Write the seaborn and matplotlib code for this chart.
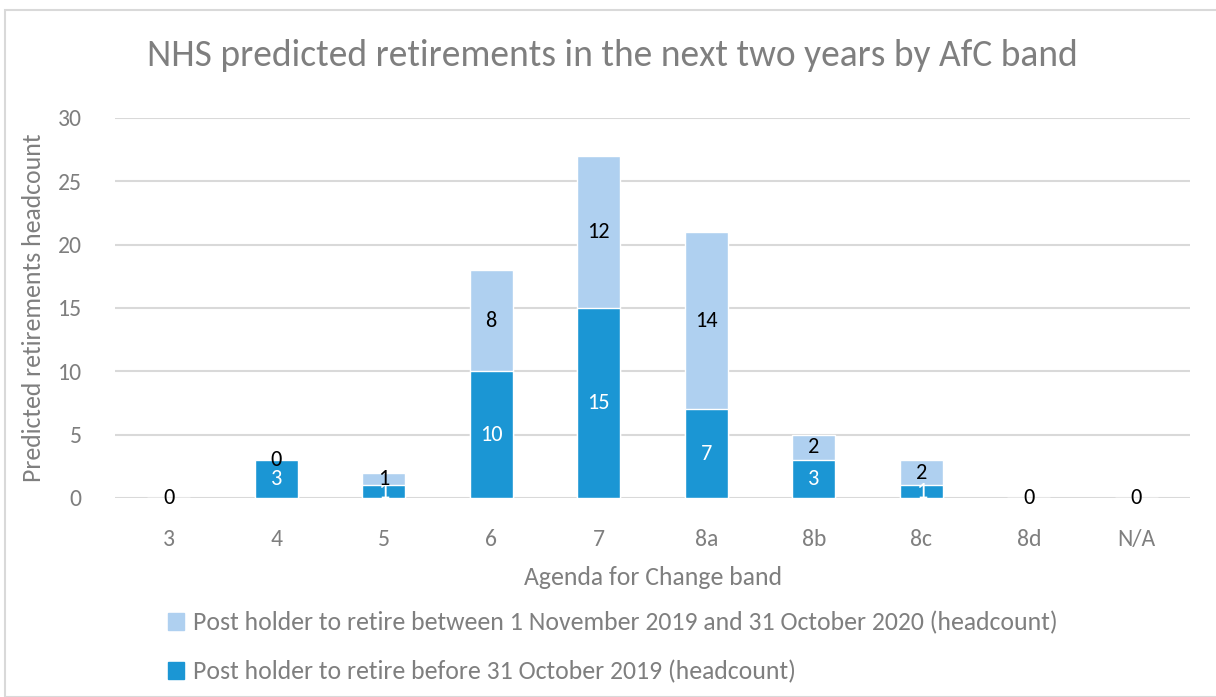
import matplotlib
matplotlib.use("Agg")
import matplotlib.pyplot as plt
import seaborn as sns
from matplotlib.patches import Patch, Rectangle

# data
bands = ['3', '4', '5', '6', '7', '8a', '8b', '8c', '8d', 'N/A']
before_oct19 = [0, 3, 1, 10, 15, 7, 3, 1, 0, 0]
nov19_oct20 = [0, 0, 1, 8, 12, 14, 2, 2, 0, 0]
yticks = [0, 5, 10, 15, 20, 25, 30]
lbl_between = 'Post holder to retire between 1 November 2019 and 31 October 2020 (headcount)'
lbl_before = 'Post holder to retire before 31 October 2019 (headcount)'

dark = '#1b96d4'
light = '#afd0f0'
grey = '#7f7f7f'

sns.set_theme(style='white')
plt.rcParams['font.family'] = ['Carlito', 'Lato', 'DejaVu Sans']

totals = [a + b for a, b in zip(before_oct19, nov19_oct20)]

fig = plt.figure(figsize=(12.16, 6.97), dpi=100)
ax = fig.add_axes([115 / 1216, 1 - 498 / 697, 1075 / 1216, 380 / 697])

sns.barplot(x=bands, y=totals, color=light, saturation=1, width=0.4, ax=ax, zorder=2)
sns.barplot(x=bands, y=before_oct19, color=dark, saturation=1, width=0.4, ax=ax, zorder=3)

# segment labels (white on dark, black on light)
for i, (b, n) in enumerate(zip(before_oct19, nov19_oct20)):
    ax.text(i, b / 2, str(b), color='white', ha='center', va='center', fontsize=16, zorder=4)
    ax.text(i, b + n / 2, str(n), color='black', ha='center', va='center', fontsize=16, zorder=4)

ax.set_xlim(-0.5, 9.5)
ax.set_ylim(0, 30)
ax.set_yticks(yticks)
ax.yaxis.grid(True, color='#d9d9d9', linewidth=1.5, zorder=0)
ax.set_axisbelow(True)
for s in ax.spines.values():
    s.set_visible(False)
ax.tick_params(axis='both', length=0, colors=grey, labelsize=17)
ax.tick_params(axis='x', pad=22)
ax.tick_params(axis='y', pad=24)
ax.set_xlabel('Agenda for Change band', color=grey, fontsize=18.5, labelpad=12)
ax.set_ylabel('Predicted retirements headcount', color=grey, fontsize=18.5, labelpad=9)

fig.text(0.504, 1 - 55 / 697, 'NHS predicted retirements in the next two years by AfC band',
         ha='center', va='center', color=grey, fontsize=27)

handles = [Patch(color=light, label=lbl_between), Patch(color=dark, label=lbl_before)]
fig.legend(handles=handles, loc='upper left', bbox_to_anchor=(145 / 1216, 1 - 588 / 697),
           frameon=False, fontsize=18.5, labelcolor=grey, handlelength=0.6, handleheight=0.6,
           handletextpad=0.35, labelspacing=1.0)

fig.patches.append(Rectangle((5 / 1216, 0), 1.0, 1 - 10 / 697, transform=fig.transFigure,
                             fill=False, edgecolor='#d9d9d9', linewidth=1.5))

fig.savefig('out.png', dpi=100)
